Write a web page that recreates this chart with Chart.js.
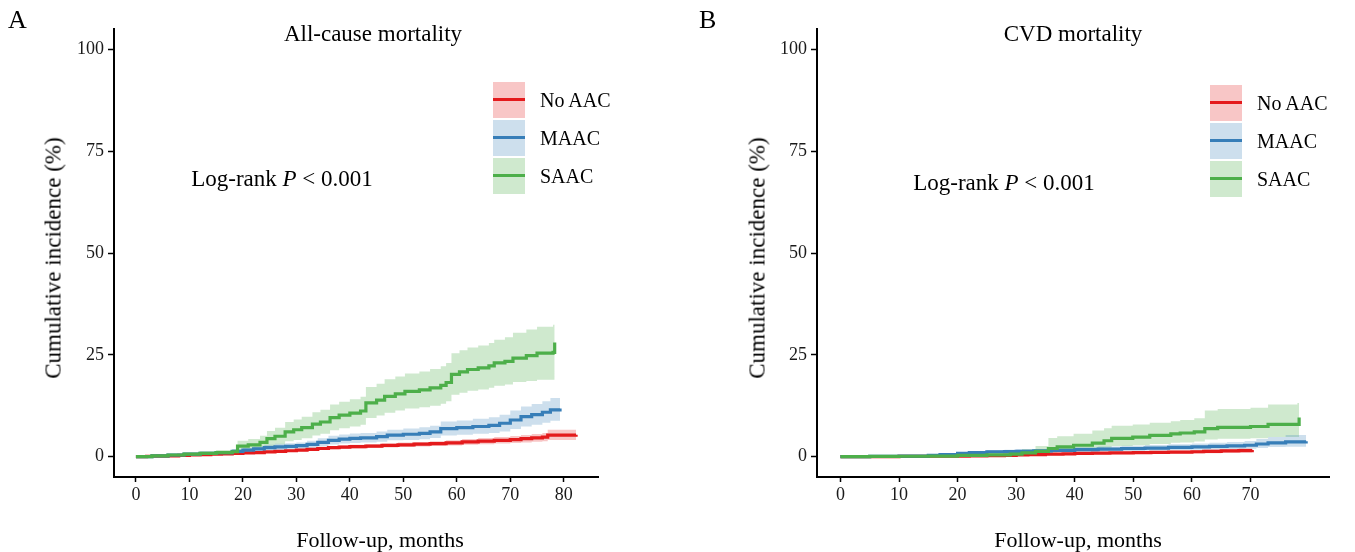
<!DOCTYPE html>
<html>
<head>
<meta charset="utf-8">
<script src="https://cdn.jsdelivr.net/npm/chart.js@4/dist/chart.umd.min.js"></script>
<style>
  body { margin: 0; background: #fff; width: 1355px; height: 552px; position: relative; overflow: hidden;
         font-family: "Liberation Serif", "Times New Roman", serif; color: #000; }
  canvas { position: absolute; top: 0; }
  .txt { position: absolute; white-space: nowrap; line-height: 1; }
  .ctr { transform: translate(-50%, -50%); }
  .ytitle { transform: translate(-50%, -50%) rotate(-90deg); font-size: 23px; }
  .legend { position: absolute; }
  .row { display: flex; align-items: center; height: 38px; }
  .key { width: 32px; height: 36px; position: relative; margin-right: 15px; }
  .key span { position: absolute; left: 0; right: 0; top: 16px; height: 3px; }
  .row div.lab { font-size: 20px; }
</style>
</head>
<body>
<canvas id="cA" width="677" height="552" style="left:0"></canvas>
<canvas id="cB" width="678" height="552" style="left:677px"></canvas>

<div class="txt" style="left:8px;top:7px;font-size:26px">A</div>
<div class="txt ctr" style="left:373px;top:33px;font-size:23px">All-cause mortality</div>
<div class="txt ytitle" style="left:53px;top:258px">Cumulative incidence (%)</div>
<div class="txt ctr" style="left:380px;top:540px;font-size:22px">Follow-up, months</div>
<div class="txt ctr" style="left:282px;top:178px;font-size:23px">Log-rank <i>P</i> &lt; 0.001</div>
<div class="legend" id="legA" style="left:493px;top:81px"></div>

<div class="txt" style="left:699px;top:7px;font-size:26px">B</div>
<div class="txt ctr" style="left:1073px;top:33px;font-size:23px">CVD mortality</div>
<div class="txt ytitle" style="left:757px;top:258px">Cumulative incidence (%)</div>
<div class="txt ctr" style="left:1078px;top:540px;font-size:22px">Follow-up, months</div>
<div class="txt ctr" style="left:1004px;top:182px;font-size:23px">Log-rank <i>P</i> &lt; 0.001</div>
<div class="legend" id="legB" style="left:1210px;top:84px"></div>

<script>
// groups
const groups = ["No AAC", "MAAC", "SAAC"];
const lineColors = ["#E41A1C", "#377EB8", "#4DAF4A"];
const bandColors = ["rgba(228,26,28,0.25)", "rgba(55,126,184,0.25)", "rgba(77,175,74,0.27)"];

// axis ticks
const yTicks = [0, 25, 50, 75, 100];
const xTicksA = [0, 10, 20, 30, 40, 50, 60, 70, 80];
const xTicksB = [0, 10, 20, 30, 40, 50, 60, 70];

// A: all-cause mortality
const tA_no = [0, 2, 4, 6, 8, 10, 12, 14, 16, 18, 20, 22, 24, 26, 28, 30, 32, 34, 36, 38, 40, 43, 46, 49, 52, 55, 58, 61, 64, 67, 70, 72, 74, 76, 77, 82.3];
const estA_no = [0, 0.1, 0.15, 0.2, 0.3, 0.4, 0.5, 0.6, 0.7, 0.8, 0.9, 1.0, 1.15, 1.3, 1.45, 1.6, 1.8, 2.0, 2.2, 2.35, 2.45, 2.6, 2.75, 2.9, 3.05, 3.2, 3.4, 3.6, 3.8, 4.0, 4.2, 4.4, 4.6, 4.8, 5.3, 5.4];
const loA_no = [0, 0.05, 0.1, 0.1, 0.2, 0.3, 0.35, 0.45, 0.5, 0.6, 0.7, 0.8, 0.9, 1.0, 1.15, 1.3, 1.45, 1.6, 1.8, 1.9, 2.0, 2.1, 2.25, 2.35, 2.5, 2.6, 2.75, 2.9, 3.05, 3.2, 3.35, 3.5, 3.65, 3.8, 4.1, 4.1];
const hiA_no = [0, 0.15, 0.2, 0.3, 0.4, 0.5, 0.65, 0.75, 0.9, 1.0, 1.1, 1.2, 1.4, 1.6, 1.75, 1.9, 2.15, 2.4, 2.6, 2.8, 2.9, 3.1, 3.25, 3.45, 3.6, 3.8, 4.05, 4.3, 4.55, 4.8, 5.05, 5.3, 5.55, 5.8, 6.6, 6.8];

const tA_m = [0, 3, 6, 9, 12, 15, 18, 20, 22, 24, 26, 28, 30, 32, 34, 36, 38, 40, 42, 45, 47, 50, 53, 55, 57, 60, 63, 66, 68, 70, 72, 74, 76, 77.5, 79.3];
const estA_m = [0, 0.2, 0.4, 0.6, 0.8, 1.0, 1.3, 1.6, 1.9, 2.2, 2.4, 2.5, 2.7, 3.0, 3.5, 4.0, 4.3, 4.5, 4.6, 4.9, 5.3, 5.5, 5.7, 6.1, 6.9, 7.1, 7.4, 7.7, 8.2, 9.0, 9.8, 10.3, 10.9, 11.5, 11.8];
const loA_m = [0, 0.1, 0.2, 0.35, 0.5, 0.65, 0.85, 1.05, 1.3, 1.5, 1.65, 1.75, 1.9, 2.15, 2.55, 2.95, 3.2, 3.35, 3.45, 3.65, 4.0, 4.1, 4.25, 4.6, 5.2, 5.35, 5.6, 5.8, 6.2, 6.8, 7.4, 7.8, 8.3, 8.8, 9.0];
const hiA_m = [0, 0.3, 0.6, 0.85, 1.1, 1.35, 1.75, 2.15, 2.5, 2.9, 3.15, 3.3, 3.5, 3.9, 4.5, 5.1, 5.45, 5.7, 5.8, 6.2, 6.6, 6.9, 7.2, 7.6, 8.6, 8.9, 9.3, 9.7, 10.3, 11.3, 12.3, 12.9, 13.6, 14.4, 15.2];

const tA_s = [0, 3, 6, 9, 12, 15, 18, 19, 21, 23.2, 24.5, 26, 27.9, 29.5, 31, 33, 34.5, 36.3, 38, 40, 42, 43, 45, 46.5, 48.5, 50.3, 53, 55, 57, 58, 59, 60.5, 62, 64, 66, 67, 69, 70.5, 73, 75, 78, 78.3];
const estA_s = [0, 0.2, 0.4, 0.6, 0.8, 1.0, 1.2, 2.6, 2.9, 3.5, 4.4, 5.0, 6.1, 6.6, 7.1, 8.0, 8.5, 9.6, 10.2, 10.7, 11.2, 13.2, 13.9, 14.8, 15.4, 16.0, 16.4, 16.9, 17.5, 18.2, 20.2, 20.8, 21.4, 21.8, 22.3, 23.0, 23.4, 24.2, 24.8, 25.4, 25.6, 28.0];
const loA_s = [0, 0.05, 0.15, 0.25, 0.35, 0.45, 0.55, 1.4, 1.6, 2.0, 2.6, 3.0, 3.8, 4.1, 4.5, 5.2, 5.6, 6.5, 7.0, 7.4, 7.8, 9.5, 10.1, 10.8, 11.3, 11.8, 12.1, 12.5, 13.0, 13.6, 15.2, 15.7, 16.2, 16.5, 16.9, 17.4, 17.7, 18.3, 18.6, 18.9, 18.9, 18.9];
const hiA_s = [0, 0.4, 0.7, 1.0, 1.3, 1.6, 1.9, 3.9, 4.3, 5.1, 6.3, 7.1, 8.5, 9.1, 9.8, 10.9, 11.5, 12.8, 13.5, 14.1, 14.7, 17.1, 17.9, 19.0, 19.7, 20.4, 20.9, 21.5, 22.2, 23.0, 25.4, 26.1, 26.8, 27.3, 27.9, 28.7, 29.3, 30.4, 31.2, 31.9, 32.4, 32.6];

// B: CVD mortality
const tB_no = [0, 5, 10, 15, 20, 22, 25, 28, 30, 32, 35, 38, 40, 43, 46, 50, 53, 56, 60, 62, 65, 68, 70.3];
const estB_no = [0, 0, 0.05, 0.1, 0.15, 0.2, 0.25, 0.3, 0.4, 0.5, 0.6, 0.7, 0.8, 0.85, 0.9, 1.0, 1.05, 1.1, 1.2, 1.3, 1.4, 1.5, 1.6];
const loB_no = [0, 0, 0, 0.05, 0.05, 0.1, 0.1, 0.15, 0.2, 0.25, 0.35, 0.4, 0.5, 0.55, 0.6, 0.65, 0.7, 0.75, 0.8, 0.85, 0.95, 1.0, 1.1];
const hiB_no = [0, 0.05, 0.1, 0.2, 0.25, 0.3, 0.4, 0.45, 0.6, 0.75, 0.85, 1.0, 1.1, 1.15, 1.25, 1.35, 1.4, 1.5, 1.6, 1.75, 1.85, 2.0, 2.1];

const tB_m = [0, 5, 10, 15, 17, 20, 22, 25, 28, 30, 33, 36, 40, 44, 48, 52, 56, 60, 63, 66, 69, 71, 73, 76, 79.5];
const estB_m = [0, 0.05, 0.15, 0.3, 0.5, 0.8, 1.0, 1.2, 1.25, 1.3, 1.4, 1.55, 1.7, 1.85, 2.0, 2.1, 2.25, 2.4, 2.5, 2.65, 2.8, 3.1, 3.4, 3.6, 3.8];
const loB_m = [0, 0, 0.05, 0.15, 0.3, 0.5, 0.65, 0.8, 0.85, 0.9, 0.95, 1.05, 1.2, 1.3, 1.4, 1.5, 1.6, 1.7, 1.75, 1.85, 1.95, 2.15, 2.35, 2.45, 2.55];
const hiB_m = [0, 0.1, 0.3, 0.5, 0.75, 1.1, 1.4, 1.65, 1.7, 1.8, 1.9, 2.1, 2.3, 2.5, 2.7, 2.85, 3.05, 3.25, 3.4, 3.6, 3.85, 4.3, 4.8, 5.3, 5.9];

const tB_s = [0, 5, 10, 15, 20, 25, 29, 31, 33.3, 35.5, 37, 39.8, 43, 45, 46.3, 49.9, 52.8, 56.4, 58, 60.4, 62.2, 64.4, 70, 73, 78, 78.3];
const estB_s = [0, 0.05, 0.1, 0.15, 0.3, 0.45, 0.6, 0.9, 1.3, 2.0, 2.4, 2.8, 3.3, 3.9, 4.5, 4.8, 5.2, 5.6, 5.8, 6.1, 6.9, 7.2, 7.4, 7.9, 7.9, 9.6];
const loB_s = [0, 0, 0.02, 0.05, 0.1, 0.15, 0.2, 0.35, 0.6, 1.0, 1.2, 1.45, 1.8, 2.2, 2.6, 2.8, 3.1, 3.4, 3.5, 3.7, 4.2, 4.4, 4.5, 4.8, 4.8, 5.5];
const hiB_s = [0, 0.15, 0.25, 0.35, 0.6, 0.9, 1.2, 1.9, 2.6, 4.6, 5.0, 5.6, 6.4, 7.0, 7.6, 7.9, 8.3, 8.7, 9.0, 9.4, 11.3, 11.7, 12.0, 12.8, 13.2, 15.3];

Chart.defaults.font.family = '"Liberation Serif", "Times New Roman", serif';
Chart.defaults.color = "#1a1a1a";

function pts(t, v) {
  return t.map((x, i) => ({ x: x, y: v[i] }));
}

// lines first (index 0-2), then lower/upper band pairs
function buildSets(series) {
  const sets = [];
  series.forEach((s, k) => {
    sets.push({
      label: groups[k], data: pts(s.t, s.est), borderColor: lineColors[k], borderWidth: 3.2,
      stepped: true, pointRadius: 0, fill: false, order: 2 - k
    });
  });
  series.forEach((s, k) => {
    sets.push({ data: pts(s.t, s.lo), borderWidth: 0, borderColor: "rgba(0,0,0,0)",
      stepped: true, pointRadius: 0, fill: false, order: 5 });
    sets.push({ data: pts(s.t, s.hi), borderWidth: 0, borderColor: "rgba(0,0,0,0)",
      backgroundColor: bandColors[k], stepped: true, pointRadius: 0, fill: "-1", order: 5 });
  });
  return sets;
}

function makeChart(id, series, xMin, xMax, xTicks, padLeft, yWidth, padRight) {
  return new Chart(document.getElementById(id), {
    type: "line",
    data: { datasets: buildSets(series) },
    options: {
      responsive: false,
      animation: false,
      layout: { padding: { left: padLeft, right: padRight, top: 29, bottom: 0 } },
      plugins: { legend: { display: false }, tooltip: { enabled: false } },
      scales: {
        x: {
          type: "linear", min: xMin, max: xMax,
          afterBuildTicks: s => { s.ticks = xTicks.map(v => ({ value: v })); },
          afterFit: s => { s.height = 75; },
          grid: { drawOnChartArea: false, drawTicks: true, tickLength: 5, tickWidth: 1.5, color: "#000" },
          border: { display: true, color: "#000", width: 2 },
          ticks: { font: { size: 18 }, padding: 2, maxRotation: 0 }
        },
        y: {
          min: -5, max: 105,
          afterBuildTicks: s => { s.ticks = yTicks.map(v => ({ value: v })); },
          afterFit: s => { s.width = yWidth; },
          grid: { drawOnChartArea: false, drawTicks: true, tickLength: 6, tickWidth: 1.5, color: "#000" },
          border: { display: true, color: "#000", width: 2 },
          ticks: { font: { size: 18 }, padding: 4 }
        }
      }
    }
  });
}

function buildLegend(id) {
  const box = document.getElementById(id);
  groups.forEach((g, k) => {
    const row = document.createElement("div");
    row.className = "row";
    row.innerHTML = '<div class="key" style="background:' + bandColors[k] + '"><span style="background:' +
      lineColors[k] + '"></span></div><div class="lab">' + g + "</div>";
    box.appendChild(row);
  });
}

makeChart("cA", [
  { t: tA_no, est: estA_no, lo: loA_no, hi: hiA_no },
  { t: tA_m, est: estA_m, lo: loA_m, hi: hiA_m },
  { t: tA_s, est: estA_s, lo: loA_s, hi: hiA_s }
], -4.1, 86.4, xTicksA, 0, 114, 79);

makeChart("cB", [
  { t: tB_no, est: estB_no, lo: loB_no, hi: hiB_no },
  { t: tB_m, est: estB_m, lo: loB_m, hi: hiB_m },
  { t: tB_s, est: estB_s, lo: loB_s, hi: hiB_s }
], -4, 83.4, xTicksB, 40, 100, 26);

buildLegend("legA");
buildLegend("legB");
</script>
</body>
</html>
